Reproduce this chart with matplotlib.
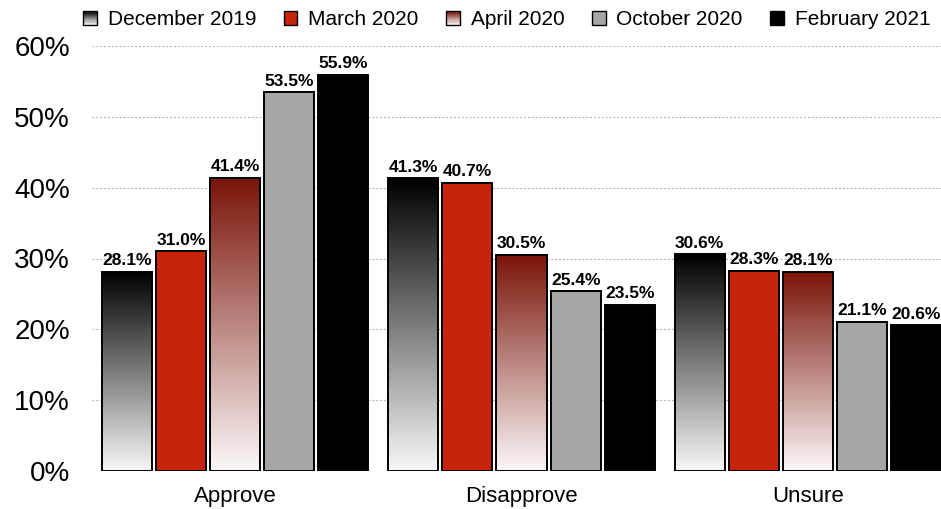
import matplotlib
matplotlib.use("Agg")
import matplotlib.pyplot as plt
import numpy as np
from matplotlib.colors import LinearSegmentedColormap
from matplotlib.patches import Rectangle
from matplotlib.legend_handler import HandlerBase

plt.rcParams['font.family'] = ['Liberation Sans', 'DejaVu Sans']

categories = ["Approve", "Disapprove", "Unsure"]
series = ["December 2019", "March 2020", "April 2020", "October 2020", "February 2021"]
dec2019 = [28.1, 41.3, 30.6]
mar2020 = [31.0, 40.7, 28.3]
apr2020 = [41.4, 30.5, 28.1]
oct2020 = [53.5, 25.4, 21.1]
feb2021 = [55.9, 23.5, 20.6]
values = [dec2019, mar2020, apr2020, oct2020, feb2021]
yticks = [0, 10, 20, 30, 40, 50, 60]

styles = [
    ("grad", "#000000"),
    ("solid", "#c8240a"),
    ("grad", "#7a1409"),
    ("solid", "#a6a6a6"),
    ("solid", "#000000"),
]

fig = plt.figure(figsize=(9.41, 5.09), dpi=100)
ax = fig.add_axes([92/941, 1-471/509, (941-92)/941, (471-46)/509])

width = 0.175
step = 0.189
x = np.arange(len(categories))
for i, (vals, (kind, col)) in enumerate(zip(values, styles)):
    pos = x + (i - 2) * step
    if kind == "solid":
        ax.bar(pos, vals, width=width, color=col, edgecolor="black", linewidth=1.4, zorder=3)
    else:
        cmap = LinearSegmentedColormap.from_list("g%d" % i, ["#ffffff", col])
        bars = ax.bar(pos, vals, width=width, color="none", edgecolor="black", linewidth=1.4, zorder=4)
        for b in bars:
            x0, y0 = b.get_x(), b.get_y()
            w, h = b.get_width(), b.get_height()
            grad = np.linspace(0.03, 1, 256).reshape(-1, 1)
            im = ax.imshow(grad, cmap=cmap, vmin=0, vmax=1, origin="lower", aspect="auto",
                           extent=[x0, x0 + w, y0, y0 + h], zorder=3, interpolation="bilinear")
            im.set_clip_path(b)
    for p, v in zip(pos, vals):
        ax.text(p, v + 0.5, f"{v:.1f}%", ha="center", va="bottom", fontsize=12.5,
                fontweight="bold", zorder=5)

ax.set_xlim(-0.5, 2.465)
ax.set_ylim(0, 60)
ax.set_yticks(yticks)
ax.set_yticklabels([f"{t}%" for t in yticks], fontsize=20)
ax.set_xticks(x)
ax.set_xticklabels(categories, fontsize=16)
ax.tick_params(axis="both", length=0)
ax.tick_params(axis="y", pad=16)
ax.tick_params(axis="x", pad=11)
for s in ax.spines.values():
    s.set_visible(False)
ax.yaxis.grid(True, linestyle=(0, (1.5, 2)), color="#aaaaaa", linewidth=0.8, zorder=0)
ax.set_axisbelow(True)


class GradHandler(HandlerBase):
    def __init__(self, top, **kw):
        super().__init__(**kw)
        self.top = top

    def create_artists(self, legend, orig_handle, xdescent, ydescent, width, height, fontsize, trans):
        size = height * 0.95
        x0 = xdescent * -1 + (width - size) / 2
        y0 = -ydescent + (height - size) / 2
        arts = []
        n = 12
        cmap = LinearSegmentedColormap.from_list("h", ["#ffffff", self.top])
        for k in range(n):
            r = Rectangle((x0, y0 + size * k / n), size, size / n + 0.3,
                          facecolor=cmap((k + 0.5) / n), edgecolor="none", transform=trans)
            arts.append(r)
        arts.append(Rectangle((x0, y0), size, size, facecolor="none", edgecolor="black",
                              linewidth=1.0, transform=trans))
        return arts


class SquareHandler(HandlerBase):
    def create_artists(self, legend, orig_handle, xdescent, ydescent, width, height, fontsize, trans):
        size = height * 0.95
        x0 = xdescent * -1 + (width - size) / 2
        y0 = -ydescent + (height - size) / 2
        return [Rectangle((x0, y0), size, size, facecolor=orig_handle.get_facecolor(),
                          edgecolor="black", linewidth=1.0, transform=trans)]


handles = []
hmap = {}
for (kind, col), name in zip(styles, series):
    h = Rectangle((0, 0), 1, 1, facecolor=col)
    handles.append(h)
    hmap[h] = GradHandler(col) if kind == "grad" else SquareHandler()

leg = fig.legend(handles, series, handler_map=hmap, loc="upper right",
                 bbox_to_anchor=(1.0, 1.0), ncol=5, frameon=False, fontsize=15,
                 handlelength=0.7, handletextpad=0.5, columnspacing=1.3, borderaxespad=0.1)

fig.savefig("out.png", dpi=100)
